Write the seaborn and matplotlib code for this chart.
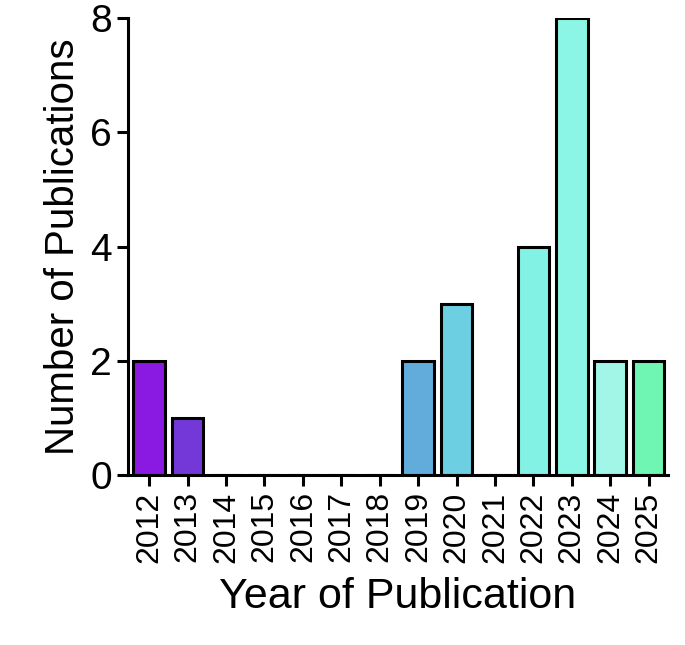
import matplotlib
matplotlib.use("Agg")
import matplotlib.pyplot as plt
import pandas as pd
import seaborn as sns

years = ["2012", "2013", "2014", "2015", "2016", "2017", "2018",
         "2019", "2020", "2021", "2022", "2023", "2024", "2025"]
counts = [2, 1, 0, 0, 0, 0, 0, 2, 3, 0, 4, 8, 2, 2]
colors = ["#8a1ae2", "#7438d8", "#6060d8", "#5878d8", "#5090d8", "#5aa0dc", "#5aa8dc",
          "#62acdc", "#6ccfe2", "#78e4e4", "#82f2e4", "#8cf6e6", "#a2f6e8", "#6ef6b2"]

df = pd.DataFrame({"year": years, "count": counts})

plt.rcParams["font.family"] = "Liberation Sans"
fig, ax = plt.subplots(figsize=(6.85, 6.45), dpi=100)
sns.barplot(data=df, x="year", y="count", hue="year", palette=colors, legend=False,
            saturation=1, width=0.82, edgecolor="black", linewidth=2.2, ax=ax)

ax.set_ylim(0, 8)
ax.set_xlim(-0.55, 13.5)
ax.set_yticks([0, 2, 4, 6, 8])
ax.tick_params(axis="y", labelsize=28, width=2.2, length=8)
ax.tick_params(axis="x", labelsize=23, width=2.2, length=8, rotation=90)
ax.set_xlabel("Year of Publication", fontsize=31, labelpad=10)
ax.set_ylabel("Number of Publications", fontsize=29, labelpad=6)
sns.despine(ax=ax)
for s in ["left", "bottom"]:
    ax.spines[s].set_linewidth(2.2)

fig.subplots_adjust(left=0.187, right=0.975, top=0.972, bottom=0.263)
fig.savefig("out.png", dpi=100)
